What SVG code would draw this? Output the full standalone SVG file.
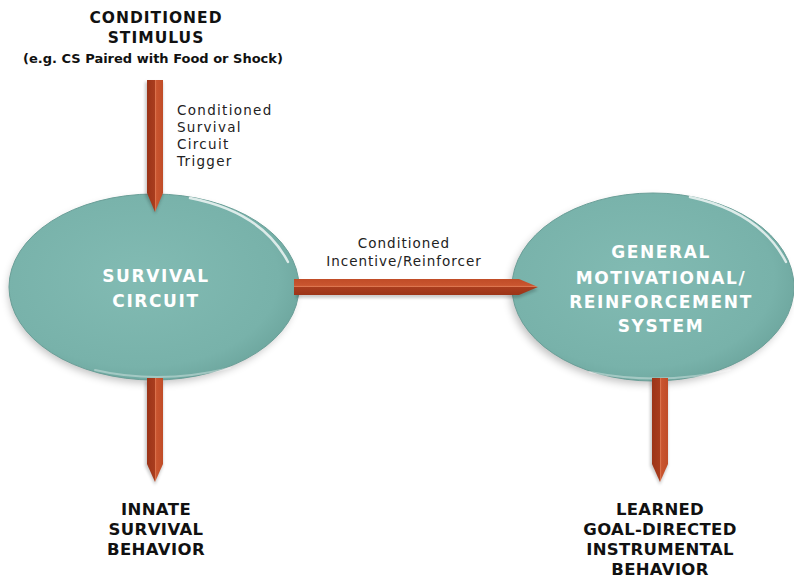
<svg xmlns="http://www.w3.org/2000/svg" width="794" height="578" viewBox="0 0 794 578">
<defs>
<radialGradient id="ellFill" cx="0.45" cy="0.45" r="0.6">
<stop offset="0" stop-color="#82bbb3"/>
<stop offset="0.8" stop-color="#78b2aa"/>
<stop offset="1" stop-color="#6ca59d"/>
</radialGradient>
<linearGradient id="vArrow" x1="0" y1="0" x2="1" y2="0">
<stop offset="0" stop-color="#9c3418"/>
<stop offset="0.5" stop-color="#a93d1e"/>
<stop offset="0.52" stop-color="#dd7650"/>
<stop offset="0.6" stop-color="#c9552f"/>
<stop offset="1" stop-color="#c04c27"/>
</linearGradient>
<linearGradient id="hArrow" x1="0" y1="0" x2="0" y2="1">
<stop offset="0" stop-color="#c04c27"/>
<stop offset="0.4" stop-color="#c9552f"/>
<stop offset="0.47" stop-color="#dd7650"/>
<stop offset="0.5" stop-color="#a93d1e"/>
<stop offset="1" stop-color="#9c3418"/>
</linearGradient>
<filter id="shadow" x="-20%" y="-20%" width="140%" height="140%">
<feGaussianBlur stdDeviation="4"/>
</filter>
<filter id="ashadow" x="-50%" y="-20%" width="200%" height="140%">
<feGaussianBlur stdDeviation="1.5"/>
</filter>
</defs>
<style>
.ttl{font-family:"DejaVu Sans",sans-serif;font-weight:bold;fill:#111;text-anchor:middle}
.lbl{font-family:"DejaVu Sans",sans-serif;font-size:13.5px;fill:#222}
.inner{font-family:"DejaVu Sans",sans-serif;font-weight:bold;font-size:17px;fill:#fff;text-anchor:middle;letter-spacing:1.6px}
.ell{fill:url(#ellFill);stroke:#6a9f98;stroke-width:1}
.shd{fill:#000;opacity:0.25;filter:url(#shadow)}
.hl{fill:none;stroke:#ffffff;stroke-opacity:0.75;stroke-width:2.5;stroke-linecap:round}
.hl2{fill:none;stroke:#ffffff;stroke-opacity:0.35;stroke-width:2;stroke-linecap:round}
.av{fill:url(#vArrow)}
.ah{fill:url(#hArrow)}
.as{fill:#000;opacity:0.2;filter:url(#ashadow)}
</style>
<rect width="794" height="578" fill="#ffffff"/>

<g id="survival-circuit">
<ellipse class="shd" cx="152" cy="291" rx="143" ry="92"/>
<ellipse class="ell" cx="154" cy="287" rx="145" ry="93"/>
<path class="hl" d="M 190 198 Q 262 212 288 262"/>
<path class="hl2" d="M 95 370 Q 160 385 230 368"/>
<text class="inner" x="156" y="282">SURVIVAL</text>
<text class="inner" x="156" y="307">CIRCUIT</text>
</g>

<g id="general-motivational-system">
<ellipse class="shd" cx="650" cy="291" rx="140" ry="93"/>
<ellipse class="ell" cx="653" cy="287" rx="141" ry="94"/>
<path class="hl" d="M 690 197 Q 760 212 786 262"/>
<path class="hl2" d="M 590 372 Q 660 386 730 370"/>
<text class="inner" x="661" y="258">GENERAL</text>
<text class="inner" x="661" y="284">MOTIVATIONAL/</text>
<text class="inner" x="661" y="308">REINFORCEMENT</text>
<text class="inner" x="661" y="332">SYSTEM</text>
</g>

<g id="connectors">
<polygon class="as" points="145,82 163,82 163,195 155,214 145,195"/>
<polygon class="av" points="147,80 163,80 163,193 155,212 147,193"/>
<polygon class="as" points="145,381 163,381 163,466 155,485 145,466"/>
<polygon class="av" points="147,378 163,378 163,464 155,482 147,464"/>
<polygon class="as" points="650,381 668,381 668,466 660,485 650,466"/>
<polygon class="av" points="652,378 668,378 668,464 660,482 652,464"/>
<polygon class="as" points="296,282 518,282 538,290 518,298 296,298"/>
<polygon class="ah" points="294,279 519,279 538,287 519,295 294,295"/>
</g>

<g id="conditioned-stimulus">
<text class="ttl" x="156" y="23" font-size="15.5" letter-spacing="1">CONDITIONED</text>
<text class="ttl" x="156" y="43" font-size="15.5" letter-spacing="1">STIMULUS</text>
<text class="ttl" x="153" y="63" font-size="13">(e.g. CS Paired with Food or Shock)</text>
</g>

<g id="label-trigger">
<text class="lbl" x="177" y="115" letter-spacing="1.3">Conditioned</text>
<text class="lbl" x="177" y="132" letter-spacing="1.3">Survival</text>
<text class="lbl" x="177" y="149" letter-spacing="1.3">Circuit</text>
<text class="lbl" x="177" y="166" letter-spacing="1.3">Trigger</text>
</g>

<g id="label-incentive">
<text class="lbl" x="404" y="248" text-anchor="middle" letter-spacing="1">Conditioned</text>
<text class="lbl" x="404" y="266" text-anchor="middle" letter-spacing="1">Incentive/Reinforcer</text>
</g>

<g id="innate-behavior">
<text class="ttl" x="156" y="515" font-size="16.5" letter-spacing="0.4">INNATE</text>
<text class="ttl" x="156" y="535" font-size="16.5" letter-spacing="0.4">SURVIVAL</text>
<text class="ttl" x="156" y="555" font-size="16.5" letter-spacing="0.4">BEHAVIOR</text>
</g>

<g id="learned-behavior">
<text class="ttl" x="660" y="515" font-size="16.5" letter-spacing="0.3">LEARNED</text>
<text class="ttl" x="660" y="535" font-size="16.5" letter-spacing="0.3">GOAL-DIRECTED</text>
<text class="ttl" x="660" y="555" font-size="16.5" letter-spacing="0.3">INSTRUMENTAL</text>
<text class="ttl" x="660" y="575" font-size="16.5" letter-spacing="0.3">BEHAVIOR</text>
</g>
</svg>
